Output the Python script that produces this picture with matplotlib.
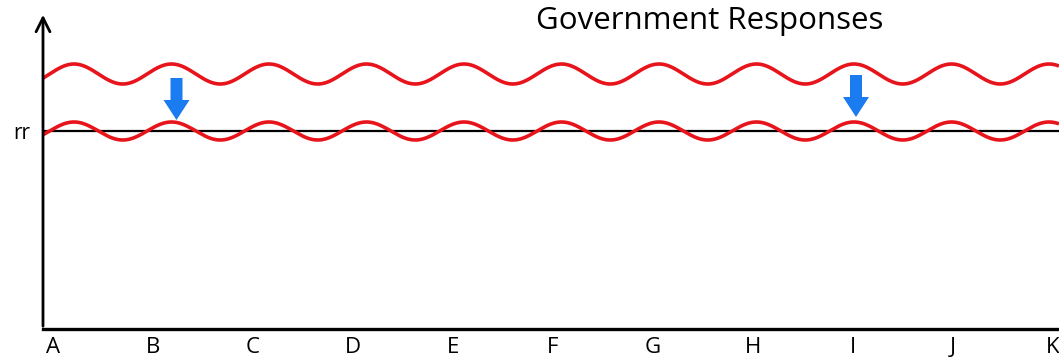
import numpy as np
import matplotlib.pyplot as plt

# tick labels along the x axis
tick_labels = ['A', 'B', 'C', 'D', 'E', 'F', 'G', 'H', 'I', 'J', 'K']
tick_pos = list(range(len(tick_labels)))

# wavy curves (y in pixel-like units above the x axis)
wave_centers = [255, 198]
wave_amps = [10, 9]
wave_period = 0.975
wave_peak = 0.21
rr_level = 198

# blue arrows: x, y start, y end
arrow_x = [1.235, 8.03]
arrow_y0 = [251, 254]
arrow_y1 = [209, 212]

fig = plt.figure(figsize=(10.59, 3.58), dpi=100)
ax = fig.add_axes([43 / 1059, 29 / 358, 1016 / 1059, 329 / 358])
ax.set_xlim(-0.1, 10.06)
ax.set_ylim(0, 329)
for s in ax.spines.values():
    s.set_visible(False)

x = np.linspace(-0.1, 10.06, 2000)
for c, a in zip(wave_centers, wave_amps):
    y = c + a * np.cos(2 * np.pi * (x - wave_peak) / wave_period)
    ax.plot(x, y, color='#e8141c', lw=2.6, solid_capstyle='butt', zorder=3)

ax.axhline(rr_level, color='black', lw=1.6, zorder=2)

for xa, y0, y1 in zip(arrow_x, arrow_y0, arrow_y1):
    ax.arrow(xa, y0, 0, y1 - y0, width=0.12, head_width=0.26, head_length=20,
             length_includes_head=True, color='#1a7cf0', lw=0, zorder=4)

# axes drawn as arrows
ax.annotate('', xy=(-0.1, 317), xytext=(-0.1, 0), xycoords='data',
            arrowprops=dict(arrowstyle='->,head_width=0.5,head_length=1.0', color='black', lw=2),
            annotation_clip=False)
ax.plot([-0.1, 10.2], [0, 0], color='black', lw=2.4, clip_on=False)

ax.set_xticks(tick_pos)
ax.set_xticklabels(tick_labels, fontsize=16, family='Open Sans')
ax.tick_params(axis='x', length=0, pad=5.5)
ax.set_yticks([rr_level])
ax.set_yticklabels(['rr'], fontsize=15, family='Open Sans')
ax.tick_params(axis='y', length=0, pad=9)

fig.text(710 / 1059, 1 - 21 / 358, 'Government Responses', fontsize=22.5,
         family='Open Sans', ha='center', va='center')

fig.savefig('out.png', dpi=100)
